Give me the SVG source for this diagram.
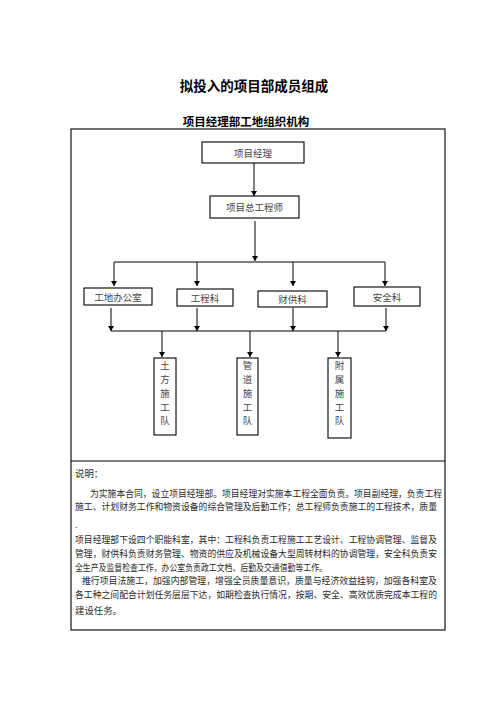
<svg xmlns="http://www.w3.org/2000/svg" width="496" height="702" viewBox="0 0 496 702">
<style>
.t{font-family:"Liberation Sans","Noto Sans CJK SC",sans-serif;font-weight:bold;fill:#000;text-anchor:middle}
.box{fill:#fff;stroke:#000;stroke-width:1.1}
.lbl{font-family:"Noto Sans CJK SC",sans-serif;font-size:9.5px;fill:#444;text-anchor:middle;dominant-baseline:central}
.body{font-family:"Noto Sans CJK SC",sans-serif;font-size:9.4px;fill:#2a2a2a;dominant-baseline:central}
.ln{fill:none;stroke:#000;stroke-width:1}
.ar{marker-end:url(#ah)}
</style>
<defs>
<marker id="ah" markerUnits="userSpaceOnUse" markerWidth="6" markerHeight="6" viewBox="0 0 5 6" refX="5" refY="3" orient="auto">
<path d="M0,0 L5,3 L0,6 Z" fill="#000"/>
</marker>
</defs>
<rect width="496" height="702" fill="#fff"/>
<text class="t" x="254" y="91" font-size="13.5">拟投入的项目部成员组成</text>
<text class="t" x="246" y="126" font-size="11.5">项目经理部工地组织机构</text>
<rect x="71" y="129" width="374" height="501" fill="none" stroke="#000" stroke-width="1.1"/>
<line x1="71" y1="461" x2="445" y2="461" stroke="#000" stroke-width="1.1"/>
<g id="connectors">
<path class="ln ar" d="M254,163 V196"/>
<path class="ln ar" d="M255,221 V261"/>
<path class="ln" d="M114,262 H385"/>
<path class="ln ar" d="M114,262 V286"/>
<path class="ln ar" d="M197,262 V286"/>
<path class="ln ar" d="M293,262 V286"/>
<path class="ln ar" d="M385,262 V286"/>
<path class="ln ar" d="M111,308 V331"/>
<path class="ln ar" d="M197,308 V331"/>
<path class="ln ar" d="M293,308 V331"/>
<path class="ln ar" d="M386,308 V331"/>
<path class="ln" d="M111,331 H386"/>
<path class="ln ar" d="M162,331 V357"/>
<path class="ln ar" d="M250,331 V357"/>
<path class="ln ar" d="M338,331 V357"/>
</g>
<g id="n1"><rect class="box" x="202" y="142" width="102" height="21"/><text class="lbl" x="253" y="152.5">项目经理</text></g>
<g id="n2"><rect class="box" x="210" y="196" width="89" height="22"/><text class="lbl" x="254.5" y="207">项目总工程师</text></g>
<g id="n3"><rect class="box" x="84" y="288" width="68" height="17"/><text class="lbl" x="118" y="296.5">工地办公室</text></g>
<g id="n4"><rect class="box" x="177" y="289" width="56" height="17"/><text class="lbl" x="205" y="297.5">工程科</text></g>
<g id="n5"><rect class="box" x="258" y="291" width="69" height="16"/><text class="lbl" x="292.5" y="299">财供科</text></g>
<g id="n6"><rect class="box" x="354" y="287" width="66" height="19"/><text class="lbl" x="387" y="296.5">安全科</text></g>
<g id="n7"><rect class="box" x="154" y="358" width="22" height="77"/>
<text class="lbl" x="165" y="365">土</text><text class="lbl" x="165" y="379">方</text><text class="lbl" x="165" y="393">施</text><text class="lbl" x="165" y="407">工</text><text class="lbl" x="165" y="420">队</text></g>
<g id="n8"><rect class="box" x="237" y="358" width="21" height="77"/>
<text class="lbl" x="247.5" y="365">管</text><text class="lbl" x="247.5" y="379">道</text><text class="lbl" x="247.5" y="393">施</text><text class="lbl" x="247.5" y="407">工</text><text class="lbl" x="247.5" y="420">队</text></g>
<g id="n9"><rect class="box" x="328" y="358" width="23" height="80"/>
<text class="lbl" x="339.5" y="365">附</text><text class="lbl" x="339.5" y="379">属</text><text class="lbl" x="339.5" y="393">施</text><text class="lbl" x="339.5" y="407">工</text><text class="lbl" x="339.5" y="420">队</text></g>
<g id="notes">
<text class="body" x="75" y="473" font-size="10">说明：</text>
<text class="body" x="90" y="493" textLength="352" lengthAdjust="spacingAndGlyphs">为实施本合同，设立项目经理部。项目经理对实施本工程全面负责。项目副经理，负责工程</text>
<text class="body" x="75" y="506" textLength="362" lengthAdjust="spacingAndGlyphs">施工、计划财务工作和物资设备的综合管理及后勤工作；总工程师负责施工的工程技术，质量</text>
<text class="body" x="75" y="524">.</text>
<text class="body" x="75" y="539" textLength="362" lengthAdjust="spacingAndGlyphs">项目经理部下设四个职能科室，其中：工程科负责工程施工工艺设计、工程协调管理、监督及</text>
<text class="body" x="75" y="553" textLength="362" lengthAdjust="spacingAndGlyphs">管理，财供科负责财务管理、物资的供应及机械设备大型周转材料的协调管理，安全科负责安</text>
<text class="body" x="75" y="567" textLength="252" lengthAdjust="spacingAndGlyphs">全生产及监督检查工作，办公室负责政工文档、后勤及交通值勤等工作。</text>
<text class="body" x="82" y="580" textLength="355" lengthAdjust="spacingAndGlyphs">推行项目法施工，加强内部管理，增强全员质量意识，质量与经济效益挂钩，加强各科室及</text>
<text class="body" x="75" y="594" textLength="362" lengthAdjust="spacingAndGlyphs">各工种之间配合计划任务层层下达，如期检查执行情况，按期、安全、高效优质完成本工程的</text>
<text class="body" x="75" y="610">建设任务。</text>
</g>
</svg>
